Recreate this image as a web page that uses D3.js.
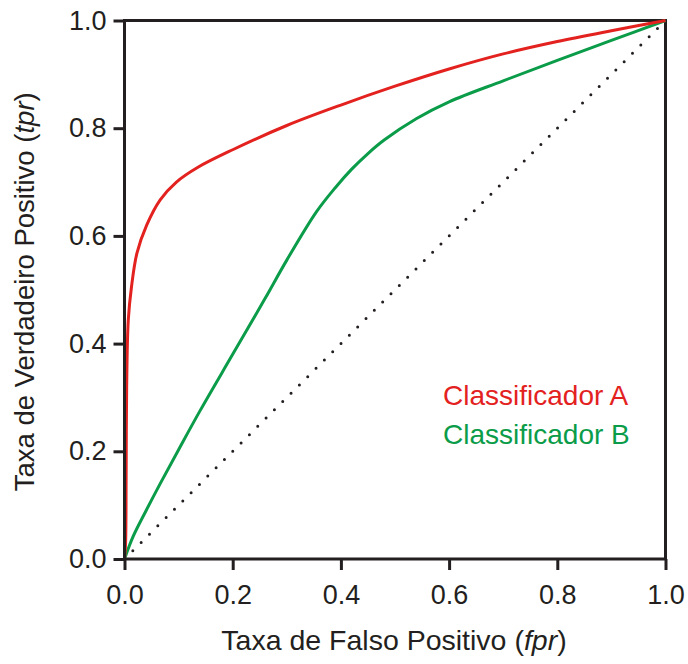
<!DOCTYPE html>
<html>
<head>
<meta charset="utf-8">
<script src="https://cdn.jsdelivr.net/npm/d3@7"></script>
<style>
  html, body { margin: 0; padding: 0; background: #fff; }
  svg { display: block; font-family: "Liberation Sans", Arial, sans-serif; }
</style>
</head>
<body>
<svg id="chart" width="688" height="664"></svg>
<script>
// ---- data ----
const xTicks = [0, 0.2, 0.4, 0.6, 0.8, 1.0];
const yTicks = [0, 0.2, 0.4, 0.6, 0.8, 1.0];

const fprA = [0, 0.002, 0.003, 0.004, 0.007, 0.013, 0.023, 0.041, 0.066, 0.096, 0.135, 0.2, 0.3, 0.4, 0.5, 0.6, 0.7, 0.8, 0.9, 1.0];
const tprA = [0, 0.03, 0.15, 0.32, 0.444, 0.506, 0.568, 0.62, 0.667, 0.70, 0.727, 0.76, 0.805, 0.843, 0.878, 0.91, 0.938, 0.961, 0.981, 1.0];

const fprB = [0, 0.016, 0.041, 0.066, 0.1, 0.14, 0.2, 0.26, 0.3, 0.355, 0.39, 0.42, 0.45, 0.48, 0.54, 0.6, 0.7, 0.8, 0.9, 1.0];
const tprB = [0, 0.042, 0.092, 0.14, 0.203, 0.276, 0.38, 0.484, 0.555, 0.645, 0.69, 0.724, 0.753, 0.778, 0.818, 0.849, 0.888, 0.926, 0.963, 1.0];

const diagonal = [[0, 0], [1, 1]];
const seriesNames = ["Classificador A", "Classificador B"];

// ---- layout ----
const svg = d3.select("#chart");
const pL = 124.5, pR = 665.5, pT = 20.5, pB = 559;
const ink = "#231f20";
const red = "#e3221f";
const green = "#0b9c49";
const tickFont = 27;

const x = d3.scaleLinear().domain([0, 1]).range([pL, pR]);
const y = d3.scaleLinear().domain([0, 1]).range([pB, pT]);

// frame (top and right)
svg.append("path")
  .attr("d", `M${pL},${pT}H${pR}V${pB}`)
  .attr("fill", "none").attr("stroke", ink).attr("stroke-width", 3);

// diagonal dotted
svg.append("path")
  .attr("d", d3.line().x(d => x(d[0])).y(d => y(d[1]))(diagonal))
  .attr("fill", "none").attr("stroke", ink).attr("stroke-width", 3)
  .attr("stroke-linecap", "round")
  .attr("stroke-dasharray", "0 11.75")
  .attr("stroke-dashoffset", -11.75);

const line = d3.line().x(d => x(d[0])).y(d => y(d[1])).curve(d3.curveCatmullRom.alpha(0.5));

svg.append("path")
  .datum(fprB.map((v, i) => [v, tprB[i]]))
  .attr("d", line)
  .attr("fill", "none").attr("stroke", green).attr("stroke-width", 3);

svg.append("path")
  .datum(fprA.map((v, i) => [v, tprA[i]]))
  .attr("d", line)
  .attr("fill", "none").attr("stroke", red).attr("stroke-width", 3);

// axes
const xAxis = d3.axisBottom(x).tickValues(xTicks).tickFormat(d3.format(".1f"))
  .tickSizeInner(11).tickSizeOuter(0).tickPadding(15);
const yAxis = d3.axisLeft(y).tickValues(yTicks).tickFormat(d3.format(".1f"))
  .tickSizeInner(11).tickSizeOuter(0).tickPadding(7);

const gx = svg.append("g").attr("transform", `translate(0,${pB})`).call(xAxis);
const gy = svg.append("g").attr("transform", `translate(${pL},0)`).call(yAxis);

[gx, gy].forEach(g => {
  g.select(".domain").attr("stroke", ink).attr("stroke-width", 3);
  g.selectAll(".tick line").attr("stroke", ink).attr("stroke-width", 3);
  g.selectAll(".tick text").attr("fill", ink).attr("font-size", tickFont)
    .attr("font-family", "'Liberation Sans', Arial, sans-serif");
});
gx.select(".domain").attr("d", `M${pL - 1.5},0H${pR + 1.5}`);
gy.select(".domain").attr("d", `M0,${pB + 1.5}V${pT - 1.5}`);

// axis titles
const xt = svg.append("text")
  .attr("x", (pL + pR) / 2 - 1).attr("y", 650)
  .attr("text-anchor", "middle").attr("fill", ink).attr("font-size", 28.5);
xt.append("tspan").text("Taxa de Falso Positivo (");
xt.append("tspan").attr("font-style", "italic").text("fpr");
xt.append("tspan").text(")");

const yt = svg.append("text")
  .attr("transform", `translate(34,${(pT + pB) / 2 + 2}) rotate(-90)`)
  .attr("text-anchor", "middle").attr("fill", ink).attr("font-size", 27.5);
yt.append("tspan").text("Taxa de Verdadeiro Positivo (");
yt.append("tspan").attr("font-style", "italic").text("tpr");
yt.append("tspan").text(")");

// legend
svg.append("text").attr("x", 443).attr("y", 405)
  .attr("fill", red).attr("font-size", 28).text(seriesNames[0]);
svg.append("text").attr("x", 443).attr("y", 444)
  .attr("fill", green).attr("font-size", 28).text(seriesNames[1]);
</script>
</body>
</html>
